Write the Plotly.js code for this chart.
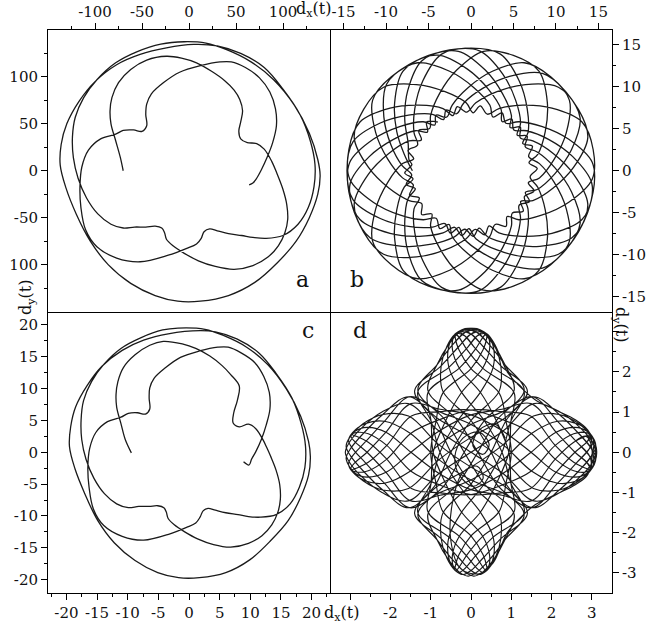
<!DOCTYPE html>
<html><head><meta charset="utf-8">
<script src="https://cdn.plot.ly/plotly-3.0.1.min.js"></script>
<style>html,body{margin:0;padding:0;background:#fff}</style>
</head><body><div id="chart" style="width:648px;height:629px"></div>
<script>
// Panel a
const aX=[-70,-73,-78,-83,-84,-82,-75,-62,-45,-24,-8,8,24,38,48,54,57,55,53,55,62,72,80,88,94,100,104,105,102,95,84,68,48,28,10,-5,-17,-24,-26,-29,-36,-46,-58,-70,-83,-97,-109,-118,-123,-124,-121,-112,-98,-78,-55,-30,-5,18,40,66,90,112,128,137,139.5,137,128,114,94,70,42,12,-12,-36,-62,-86,-105,-120,-131,-137,-136,-130,-117,-100,-77,-52,-24,5,30,55,80,100,118,129,134,133,127,116,100,82,68,56,42,30,22,16,13,8,-3,-22,-52,-77,-98,-110,-115,-116,-114,-107,-94,-78,-70,-59,-50,-45,-46,-45,-40,-27,-10,12,33,45,60,75,86,92,93,89,83,77,72,68,64];
const aY=[0,14,32,50,64,78,94,108,118,122,120,115,106,96,86,76,64,52,42,34,30,29,23,10,-4,-20,-36,-52,-66,-80,-92,-101,-105,-102,-96,-88,-80,-73,-66,-61,-59,-60,-60,-61,-57,-46,-29,-8,14,36,57,78,97,115,127,135,137.5,136,129,116,97,70,40,12,-5,-25,-50,-75,-98,-119,-133,-139,-139,-133,-120,-100,-75,-46,-18,6,28,50,74,95,113,124,131,134.6,133,125,110,87,60,32,7,-17,-39,-57,-69,-72,-71,-69,-67,-64,-62,-65,-72,-78,-83,-90,-97,-93,-81,-63,-39,-17,4,22,34,39,43,43.5,42,48,60,71,82,94,105,112,116,116,110,99,84,66,48,30,14,1,-8,-13,-15];
// Panel c
const cX=[-9.4,-10.4,-11.1,-11.8,-11.9,-11.6,-10.7,-8.8,-6.4,-4.2,-1.1,1.1,3.4,5.4,6.8,8.2,7.9,7.3,7.2,8.2,9.7,10.9,12.1,12.7,13.3,14.2,14.8,14.9,14.5,13.5,11.9,9.7,6.8,4.0,1.4,-0.7,-2.4,-3.4,-3.7,-4.1,-5.1,-6.5,-8.2,-9.9,-11.8,-13.8,-15.5,-16.8,-17.5,-17.6,-17.2,-15.9,-13.9,-11.1,-7.8,-4.3,-1.8,2.6,5.7,9.4,12.8,15.9,18.2,19.5,19.8,19.5,18.2,16.2,13.3,9.9,6.0,1.7,-1.7,-5.1,-8.8,-12.2,-14.9,-17.0,-18.6,-19.5,-19.3,-18.5,-16.6,-14.2,-10.9,-7.4,-3.4,1.8,4.3,7.8,11.4,14.2,16.8,18.3,19.0,18.9,18.0,16.5,14.2,11.6,9.7,8.0,6.0,4.3,3.1,2.3,1.8,1.1,-0.4,-3.1,-7.4,-10.9,-13.9,-15.6,-16.3,-16.5,-16.2,-15.2,-13.3,-11.1,-9.9,-8.4,-7.1,-6.4,-6.5,-6.4,-5.7,-3.8,-1.4,1.7,4.7,6.4,8.5,10.7,12.2,13.1,13.2,12.6,11.8,10.9,10.2,9.8,8.9];
const cY=[-0.1,2.0,4.5,7.1,9.1,11.1,13.3,15.3,16.8,17.4,17.0,16.3,15.1,13.6,12.2,10.4,8.2,6.2,4.6,4.0,4.4,3.7,1.9,0.7,-0.6,-2.8,-5.1,-7.4,-9.4,-11.4,-13.1,-14.3,-14.9,-14.5,-13.6,-12.5,-11.4,-10.4,-9.4,-8.7,-8.4,-8.5,-8.5,-8.7,-8.1,-6.5,-4.1,-1.1,2.0,5.1,8.1,11.1,13.8,16.3,18.0,19.2,19.5,19.3,18.3,16.5,13.8,9.9,5.7,1.7,-0.7,-3.6,-7.1,-10.7,-13.9,-16.9,-18.9,-19.7,-19.7,-18.9,-17.0,-14.2,-10.7,-6.5,-2.6,0.9,4.0,7.1,10.5,13.5,16.0,17.6,18.6,19.1,18.9,17.8,15.6,12.4,8.5,4.5,1.0,-2.4,-5.5,-8.1,-9.8,-10.2,-10.1,-9.8,-9.5,-9.1,-8.8,-9.2,-10.2,-11.1,-11.8,-12.8,-13.8,-13.2,-11.5,-8.9,-5.5,-2.4,0.6,3.1,4.8,5.5,6.1,6.2,6.0,6.8,8.5,10.1,11.6,13.3,14.9,15.9,16.5,16.5,15.6,14.1,11.9,9.4,6.8,4.3,2.0,0.1,-1.1,-2.0,-1.5];
// Panel b
const bX=[
-6.9,
-7.86,-8.74,-8.99,-8.00,-4.99,-1.49,1.68,3.71,4.76, 4.62,5.80,5.80,
7.28,9.68,12.09,13.75,12.64,10.29,6.41,3.06,0.57, -0.24,-1.09,-1.93,
-3.29,-6.10,-9.53,-13.07,-14.38,-14.27,-11.51,-8.40,-5.63, -4.25,-4.13,-2.85,
-2.23,-0.35,2.52,6.27,9.38,11.58,11.22,9.80,8.06, 6.75,7.42,6.29,
6.71,6.62,5.68,3.46,0,-3.46,-5.68,-6.62,-6.71, -6.09,-7.23,-6.79,
-8.06,-9.80,-11.22,-11.58,-9.38,-6.27,-2.52,0.35,2.23, 2.58,3.66,4.11,
5.63,8.40,11.51,14.27,14.38,13.07,9.53,6.10,3.29, 2.13,1.62,0.49,
-0.57,-3.06,-6.41,-10.29,-12.64,-13.75,-12.09,-9.68,-7.28, -5.85,-6.15,-4.86,
-4.76,-3.71,-1.68,1.49,4.99,8.00,8.99,8.74,7.86, 6.83,7.80,6.96,
7.86,8.74,8.99,8.00,4.99,1.49,-1.68,-3.71,-4.76, -4.62,-5.80,-5.80,
-7.28,-9.68,-12.09,-13.75,-12.64,-10.29,-6.41,-3.06,-0.57, 0.24,1.09,1.93,
3.29,6.10,9.53,13.07,14.38,14.27,11.51,8.40,5.63, 4.25,4.13,2.85,
2.23,0.35,-2.52,-6.27,-9.38,-11.58,-11.22,-9.80,-8.06, -6.75,-7.42,-6.29,
-6.71,-6.62,-5.68,-3.46,0,3.46,5.68,6.62,6.71, 6.09,7.23,6.79,
8.06,9.80,11.22,11.58,9.38,6.27,2.52,-0.35,-2.23, -2.58,-3.66,-4.11,
-5.63,-8.40,-11.51,-14.27,-14.38,-13.07,-9.53,-6.10,-3.29, -2.13,-1.62,-0.49,
0.57,3.06,6.41,10.29,12.64,13.75,12.09,9.68,7.28, 5.85,6.15,4.86,
4.76,3.71,1.68,-1.49,-4.99,-8.00,-8.99,-8.74,-7.86, -6.83,-7.80,-6.96,
-7.29,
-7.40,-7.80,-7.45,-5.81,-2.53,1.00,3.74,5.25,5.83, 5.44,6.61,6.39,
7.79,9.89,11.84,12.85,11.18,8.41,4.53,1.38,-0.85, -1.43,-2.41,-3.07,
-4.53,-7.36,-10.68,-13.88,-14.6,-13.88,-10.68,-7.36,-4.53, -3.24,-2.92,-1.69,
-0.85,1.38,4.53,8.41,11.18,12.85,11.84,9.89,7.79, 6.40,6.89,5.66,
5.83,5.25,3.74,1.00,-2.53,-5.81,-7.45,-7.80,-7.40, -6.56,-7.63,-6.98,
-8.08,-9.42,-10.26,-9.94,-7.3,-3.94,-0.42,2.06,3.55, 3.66,4.80,5.04,
6.55,9.18,11.98,14.22,13.72,11.85,8.10,4.65,1.96, 0.96,0.27,-0.73,
-1.96,-4.65,-8.10,-11.85,-13.72,-14.22,-11.98,-9.18,-6.55, -5.13,-5.22,-3.91];
const bY=[
0,
1.96,4.65,8.10,11.85,13.72,14.22,11.98,9.18,6.55, 5.13,5.22,3.91,
3.55,2.06,-0.42,-3.94,-7.3,-9.94,-10.26,-9.42,-8.08, -6.90,-7.72,-6.73,
-7.40,-7.80,-7.45,-5.81,-2.53,1.00,3.74,5.25,5.83, 5.44,6.61,6.39,
7.79,9.89,11.84,12.85,11.18,8.41,4.53,1.38,-0.85, -1.43,-2.41,-3.07,
-4.53,-7.36,-10.68,-13.88,-14.6,-13.88,-10.68,-7.36,-4.53, -3.24,-2.92,-1.69,
-0.85,1.38,4.53,8.41,11.18,12.85,11.84,9.89,7.79, 6.40,6.89,5.66,
5.83,5.25,3.74,1.00,-2.53,-5.81,-7.45,-7.80,-7.40, -6.56,-7.63,-6.98,
-8.08,-9.42,-10.26,-9.94,-7.3,-3.94,-0.42,2.06,3.55, 3.66,4.80,5.04,
6.55,9.18,11.98,14.22,13.72,11.85,8.10,4.65,1.96, 0.96,0.27,-0.73,
-1.96,-4.65,-8.10,-11.85,-13.72,-14.22,-11.98,-9.18,-6.55, -5.13,-5.22,-3.91,
-3.55,-2.06,0.42,3.94,7.3,9.94,10.26,9.42,8.08, 6.90,7.72,6.73,
7.40,7.80,7.45,5.81,2.53,-1.00,-3.74,-5.25,-5.83, -5.44,-6.61,-6.39,
-7.79,-9.89,-11.84,-12.85,-11.18,-8.41,-4.53,-1.38,0.85, 1.43,2.41,3.07,
4.53,7.36,10.68,13.88,14.6,13.88,10.68,7.36,4.53, 3.24,2.92,1.69,
0.85,-1.38,-4.53,-8.41,-11.18,-12.85,-11.84,-9.89,-7.79, -6.40,-6.89,-5.66,
-5.83,-5.25,-3.74,-1.00,2.53,5.81,7.45,7.80,7.40, 6.56,7.63,6.98,
8.08,9.42,10.26,9.94,7.3,3.94,0.42,-2.06,-3.55, -3.66,-4.80,-5.04,
-6.55,-9.18,-11.98,-14.22,-13.72,-11.85,-8.10,-4.65,-1.96, -0.96,-0.27,0.73,
1.28,
3.29,6.10,9.53,13.07,14.38,14.27,11.51,8.40,5.63, 4.25,4.13,2.85,
2.23,0.35,-2.52,-6.27,-9.38,-11.58,-11.22,-9.80,-8.06, -6.75,-7.42,-6.29,
-6.71,-6.62,-5.68,-3.46,0,3.46,5.68,6.62,6.71, 6.09,7.23,6.79,
8.06,9.80,11.22,11.58,9.38,6.27,2.52,-0.35,-2.23, -2.58,-3.66,-4.11,
-5.63,-8.40,-11.51,-14.27,-14.38,-13.07,-9.53,-6.10,-3.29, -2.13,-1.62,-0.49,
0.57,3.06,6.41,10.29,12.64,13.75,12.09,9.68,7.28, 5.85,6.15,4.86,
4.76,3.71,1.68,-1.49,-4.99,-8.00,-8.99,-8.74,-7.86, -6.83,-7.80,-6.96,
-7.86,-8.74,-8.99,-8.00,-4.99,-1.49,1.68,3.71,4.76, 4.62,5.80,5.80];
// Panel d: vertical-lobe swings, edge, horizontal-lobe swings, edge and centre
const dX=[
.40,.39,.30,0,-.70,-.87,-1.0,-.87,-.70,0,.30,.39,.40,.39,.30,0,-.70,-.87,-1.0,-.87,-.70,0,.30,.39,
.38,.29,.10,-.29,-1.07,-.99,-.94,-.64,-.24,.29,.46,.44,.38,.29,.10,-.29,-1.07,-.99,-.94,-.64,-.24,.29,.46,.44,
.31,.15,-.10,-.55,-1.32,-.99,-.77,-.34,.24,.55,.56,.44,.31,.15,-.10,-.55,-1.32,-.99,-.77,-.34,.24,.55,.56,.44,
.20,0,-.30,-.74,-1.4,-.87,-.5,0,.70,.74,.6,.39,.20,0,-.30,-.74,-1.4,-.87,-.5,0,.70,.74,.6,.39,
.07,-.15,-.46,-.84,-1.32,-.64,-.17,.34,1.07,.84,.56,.29,.07,-.15,-.46,-.84,-1.32,-.64,-.17,.34,1.07,.84,.56,.29,
-.07,-.29,-.56,-.84,-1.07,-.34,.17,.64,1.32,.84,.46,.15,-.07,-.29,-.56,-.84,-1.07,-.34,.17,.64,1.32,.84,.46,.15,
-.20,-.39,-.60,-.74,-.70,0,.50,.87,1.4,.74,.30,0,-.20,-.39,-.60,-.74,-.70,0,.50,.87,1.4,.74,.30,0,
-.31,-.44,-.56,-.55,-.24,.34,.77,.99,1.32,.55,.10,-.15,-.31,-.44,-.56,-.55,-.24,.34,.77,.99,1.32,.55,.10,-.15,
-.38,-.44,-.46,-.29,.24,.64,.94,.99,1.07,.29,-.10,-.29,-.38,-.44,-.46,-.29,.24,.64,.94,.99,1.07,.29,-.10,-.29,
-.40,-.39,-.30,0,.70,.87,1.0,.87,.70,0,-.30,-.39,-.40,-.39,-.30,0,.70,.87,1.0,.87,.70,0,-.30,-.39,
-.38,-.29,-.10,.29,1.07,.99,.94,.64,.24,-.29,-.46,-.44,-.38,-.29,-.10,.29,1.07,.99,.94,.64,.24,-.29,-.46,-.44,
-.31,-.15,.10,.55,1.32,.99,.77,.34,-.24,-.55,-.56,-.44,-.31,-.15,.10,.55,1.32,.99,.77,.34,-.24,-.55,-.56,-.44,
-.20,0,.30,.74,1.4,.87,.5,0,-.70,-.74,-.6,-.39,-.20,0,.30,.74,1.4,.87,.5,0,-.70,-.74,-.6,-.39,
-.07,.15,.46,.84,1.32,.64,.17,-.34,-1.07,-.84,-.56,-.29,-.07,.15,.46,.84,1.32,.64,.17,-.34,-1.07,-.84,-.56,-.29,
.07,.29,.56,.84,1.07,.34,-.17,-.64,-1.32,-.84,-.46,-.15,.07,.29,.56,.84,1.07,.34,-.17,-.64,-1.32,-.84,-.46,-.15,
.20,.39,.60,.74,.70,0,-.50,-.87,-1.4,-.74,-.30,0,.20,.39,.60,.74,.70,0,-.50,-.87,-1.4,-.74,-.30,0,
.31,.44,.56,.55,.24,-.34,-.77,-.99,-1.32,-.55,-.10,.15,.31,.44,.56,.55,.24,-.34,-.77,-.99,-1.32,-.55,-.10,.15,
.38,.44,.46,.29,-.24,-.64,-.94,-.99,-1.07,-.29,.10,.29,.38,.44,.46,.29,-.24,-.64,-.94,-.99,-1.07,-.29,.10,.29,
0.38,0.55,0.72,0.9,1.25,1.6,2.1,2.6,2.9,
2.95,2.85,2.55,2.09,1.48,0.76,0,-0.76,-1.48,-2.09,-2.55,-2.85,-2.95,-2.85,-2.55,-2.09,-1.48,-0.76,0,0.76,1.48,2.09,2.55,2.85,
2.98,2.88,2.58,2.11,1.49,0.77,0,-0.77,-1.49,-2.11,-2.58,-2.88,-2.98,-2.88,-2.58,-2.11,-1.49,-0.77,0,0.77,1.49,2.11,2.58,2.88,
3.04,2.94,2.63,2.15,1.52,0.79,0,-0.79,-1.52,-2.15,-2.63,-2.94,-3.04,-2.94,-2.63,-2.15,-1.52,-0.79,0,0.79,1.52,2.15,2.63,2.94,
3.10,2.99,2.68,2.19,1.55,0.80,0,-0.80,-1.55,-2.19,-2.68,-2.99,-3.10,-2.99,-2.68,-2.19,-1.55,-0.80,0,0.80,1.55,2.19,2.68,2.99,
3.12,3.01,2.70,2.21,1.56,0.81,0,-0.81,-1.56,-2.21,-2.70,-3.01,-3.12,-3.01,-2.70,-2.21,-1.56,-0.81,0,0.81,1.56,2.21,2.70,3.01,
3.10,2.99,2.68,2.19,1.55,0.80,0,-0.80,-1.55,-2.19,-2.68,-2.99,-3.10,-2.99,-2.68,-2.19,-1.55,-0.80,0,0.80,1.55,2.19,2.68,2.99,
3.04,2.94,2.63,2.15,1.52,0.79,0,-0.79,-1.52,-2.15,-2.63,-2.94,-3.04,-2.94,-2.63,-2.15,-1.52,-0.79,0,0.79,1.52,2.15,2.63,2.94,
2.98,2.88,2.58,2.11,1.49,0.77,0,-0.77,-1.49,-2.11,-2.58,-2.88,-2.98,-2.88,-2.58,-2.11,-1.49,-0.77,0,0.77,1.49,2.11,2.58,2.88,
2.95,2.85,2.55,2.09,1.48,0.76,0,-0.76,-1.48,-2.09,-2.55,-2.85,-2.95,-2.85,-2.55,-2.09,-1.48,-0.76,0,0.76,1.48,2.09,2.55,2.85,
2.95,2.85,2.55,2.09,1.48,0.76,0,-0.76,-1.48,-2.09,-2.55,-2.85,-2.95,-2.85,-2.55,-2.09,-1.48,-0.76,0,0.76,1.48,2.09,2.55,2.85,
2.98,2.88,2.58,2.11,1.49,0.77,0,-0.77,-1.49,-2.11,-2.58,-2.88,-2.98,-2.88,-2.58,-2.11,-1.49,-0.77,0,0.77,1.49,2.11,2.58,2.88,
3.04,2.94,2.63,2.15,1.52,0.79,0,-0.79,-1.52,-2.15,-2.63,-2.94,-3.04,-2.94,-2.63,-2.15,-1.52,-0.79,0,0.79,1.52,2.15,2.63,2.94,
3.10,2.99,2.68,2.19,1.55,0.80,0,-0.80,-1.55,-2.19,-2.68,-2.99,-3.10,-2.99,-2.68,-2.19,-1.55,-0.80,0,0.80,1.55,2.19,2.68,2.99,
3.12,3.01,2.70,2.21,1.56,0.81,0,-0.81,-1.56,-2.21,-2.70,-3.01,-3.12,-3.01,-2.70,-2.21,-1.56,-0.81,0,0.81,1.56,2.21,2.70,3.01,
3.10,2.99,2.68,2.19,1.55,0.80,0,-0.80,-1.55,-2.19,-2.68,-2.99,-3.10,-2.99,-2.68,-2.19,-1.55,-0.80,0,0.80,1.55,2.19,2.68,2.99,
3.04,2.94,2.63,2.15,1.52,0.79,0,-0.79,-1.52,-2.15,-2.63,-2.94,-3.04,-2.94,-2.63,-2.15,-1.52,-0.79,0,0.79,1.52,2.15,2.63,2.94,
2.98,2.88,2.58,2.11,1.49,0.77,0,-0.77,-1.49,-2.11,-2.58,-2.88,-2.98,-2.88,-2.58,-2.11,-1.49,-0.77,0,0.77,1.49,2.11,2.58,2.88,
2.95,2.85,2.55,2.09,1.48,0.76,0,-0.76,-1.48,-2.09,-2.55,-2.85,-2.95,-2.85,-2.55,-2.09,-1.48,-0.76,0,0.76,1.48,2.09,2.55,2.85,
3.0,2.9,2.6,2.1,1.6,1.25,0.9,0.72,0.55,0.2,-0.25,-0.5,-0.45,-0.2,0.15,0.3,0.05,-0.3,-0.4,-0.2,0.2,0.45,0.3,0.05,0.2,0.6,0.85];
const dY=[
2.94,2.84,2.55,2.08,1.47,0.76,0,-0.76,-1.47,-2.08,-2.55,-2.84,-2.94,-2.84,-2.55,-2.08,-1.47,-0.76,0,0.76,1.47,2.08,2.55,2.84,
2.95,2.85,2.55,2.09,1.48,0.76,0,-0.76,-1.48,-2.09,-2.55,-2.85,-2.95,-2.85,-2.55,-2.09,-1.48,-0.76,0,0.76,1.48,2.09,2.55,2.85,
2.99,2.89,2.59,2.11,1.50,0.77,0,-0.77,-1.50,-2.11,-2.59,-2.89,-2.99,-2.89,-2.59,-2.11,-1.50,-0.77,0,0.77,1.50,2.11,2.59,2.89,
3.04,2.94,2.63,2.15,1.52,0.79,0,-0.79,-1.52,-2.15,-2.63,-2.94,-3.04,-2.94,-2.63,-2.15,-1.52,-0.79,0,0.79,1.52,2.15,2.63,2.94,
3.08,2.98,2.67,2.18,1.54,0.80,0,-0.80,-1.54,-2.18,-2.67,-2.98,-3.08,-2.98,-2.67,-2.18,-1.54,-0.80,0,0.80,1.54,2.18,2.67,2.98,
3.08,2.98,2.67,2.18,1.54,0.80,0,-0.80,-1.54,-2.18,-2.67,-2.98,-3.08,-2.98,-2.67,-2.18,-1.54,-0.80,0,0.80,1.54,2.18,2.67,2.98,
3.04,2.94,2.63,2.15,1.52,0.79,0,-0.79,-1.52,-2.15,-2.63,-2.94,-3.04,-2.94,-2.63,-2.15,-1.52,-0.79,0,0.79,1.52,2.15,2.63,2.94,
2.99,2.89,2.59,2.11,1.50,0.77,0,-0.77,-1.50,-2.11,-2.59,-2.89,-2.99,-2.89,-2.59,-2.11,-1.50,-0.77,0,0.77,1.50,2.11,2.59,2.89,
2.95,2.85,2.55,2.09,1.48,0.76,0,-0.76,-1.48,-2.09,-2.55,-2.85,-2.95,-2.85,-2.55,-2.09,-1.48,-0.76,0,0.76,1.48,2.09,2.55,2.85,
2.94,2.84,2.55,2.08,1.47,0.76,0,-0.76,-1.47,-2.08,-2.55,-2.84,-2.94,-2.84,-2.55,-2.08,-1.47,-0.76,0,0.76,1.47,2.08,2.55,2.84,
2.95,2.85,2.55,2.09,1.48,0.76,0,-0.76,-1.48,-2.09,-2.55,-2.85,-2.95,-2.85,-2.55,-2.09,-1.48,-0.76,0,0.76,1.48,2.09,2.55,2.85,
2.99,2.89,2.59,2.11,1.50,0.77,0,-0.77,-1.50,-2.11,-2.59,-2.89,-2.99,-2.89,-2.59,-2.11,-1.50,-0.77,0,0.77,1.50,2.11,2.59,2.89,
3.04,2.94,2.63,2.15,1.52,0.79,0,-0.79,-1.52,-2.15,-2.63,-2.94,-3.04,-2.94,-2.63,-2.15,-1.52,-0.79,0,0.79,1.52,2.15,2.63,2.94,
3.08,2.98,2.67,2.18,1.54,0.80,0,-0.80,-1.54,-2.18,-2.67,-2.98,-3.08,-2.98,-2.67,-2.18,-1.54,-0.80,0,0.80,1.54,2.18,2.67,2.98,
3.08,2.98,2.67,2.18,1.54,0.80,0,-0.80,-1.54,-2.18,-2.67,-2.98,-3.08,-2.98,-2.67,-2.18,-1.54,-0.80,0,0.80,1.54,2.18,2.67,2.98,
3.04,2.94,2.63,2.15,1.52,0.79,0,-0.79,-1.52,-2.15,-2.63,-2.94,-3.04,-2.94,-2.63,-2.15,-1.52,-0.79,0,0.79,1.52,2.15,2.63,2.94,
2.99,2.89,2.59,2.11,1.50,0.77,0,-0.77,-1.50,-2.11,-2.59,-2.89,-2.99,-2.89,-2.59,-2.11,-1.50,-0.77,0,0.77,1.50,2.11,2.59,2.89,
2.95,2.85,2.55,2.09,1.48,0.76,0,-0.76,-1.48,-2.09,-2.55,-2.85,-2.95,-2.85,-2.55,-2.09,-1.48,-0.76,0,0.76,1.48,2.09,2.55,2.85,
2.95,2.75,2.4,2.0,1.6,1.3,1.05,0.8,0.55,
.44,.40,.25,-.17,-.90,-1.01,-1.05,-.82,-.48,.17,.46,.49,.44,.40,.25,-.17,-.90,-1.01,-1.05,-.82,-.48,.17,.46,.49,
.39,.26,0,-.50,-1.21,-1.07,-.93,-.54,0,.50,.62,.52,.39,.26,0,-.50,-1.21,-1.07,-.93,-.54,0,.50,.62,.52,
.29,.09,-.25,-.77,-1.38,-1.01,-.69,-.19,.48,.77,.71,.49,.29,.09,-.25,-.77,-1.38,-1.01,-.69,-.19,.48,.77,.71,.49,
.15,-.09,-.46,-.94,-1.38,-.82,-.37,.19,.90,.94,.71,.40,.15,-.09,-.46,-.94,-1.38,-.82,-.37,.19,.90,.94,.71,.40,
0,-.26,-.62,-1.0,-1.21,-.54,0,.54,1.21,1.0,.62,.26,0,-.26,-.62,-1.0,-1.21,-.54,0,.54,1.21,1.0,.62,.26,
-.15,-.40,-.71,-.94,-.90,-.19,.37,.82,1.38,.94,.46,.09,-.15,-.40,-.71,-.94,-.90,-.19,.37,.82,1.38,.94,.46,.09,
-.29,-.49,-.71,-.77,-.48,.19,.69,1.01,1.38,.77,.25,-.09,-.29,-.49,-.71,-.77,-.48,.19,.69,1.01,1.38,.77,.25,-.09,
-.39,-.52,-.62,-.50,0,.54,.93,1.07,1.21,.50,0,-.26,-.39,-.52,-.62,-.50,0,.54,.93,1.07,1.21,.50,0,-.26,
-.44,-.49,-.46,-.17,.48,.82,1.05,1.01,.90,.17,-.25,-.40,-.44,-.49,-.46,-.17,.48,.82,1.05,1.01,.90,.17,-.25,-.40,
-.44,-.40,-.25,.17,.90,1.01,1.05,.82,.48,-.17,-.46,-.49,-.44,-.40,-.25,.17,.90,1.01,1.05,.82,.48,-.17,-.46,-.49,
-.39,-.26,0,.50,1.21,1.07,.93,.54,0,-.50,-.62,-.52,-.39,-.26,0,.50,1.21,1.07,.93,.54,0,-.50,-.62,-.52,
-.29,-.09,.25,.77,1.38,1.01,.69,.19,-.48,-.77,-.71,-.49,-.29,-.09,.25,.77,1.38,1.01,.69,.19,-.48,-.77,-.71,-.49,
-.15,.09,.46,.94,1.38,.82,.37,-.19,-.90,-.94,-.71,-.40,-.15,.09,.46,.94,1.38,.82,.37,-.19,-.90,-.94,-.71,-.40,
0,.26,.62,1.0,1.21,.54,0,-.54,-1.21,-1.0,-.62,-.26,0,.26,.62,1.0,1.21,.54,0,-.54,-1.21,-1.0,-.62,-.26,
.15,.40,.71,.94,.90,.19,-.37,-.82,-1.38,-.94,-.46,-.09,.15,.40,.71,.94,.90,.19,-.37,-.82,-1.38,-.94,-.46,-.09,
.29,.49,.71,.77,.48,-.19,-.69,-1.01,-1.38,-.77,-.25,.09,.29,.49,.71,.77,.48,-.19,-.69,-1.01,-1.38,-.77,-.25,.09,
.39,.52,.62,.50,0,-.54,-.93,-1.07,-1.21,-.50,0,.26,.39,.52,.62,.50,0,-.54,-.93,-1.07,-1.21,-.50,0,.26,
.44,.49,.46,.17,-.48,-.82,-1.05,-1.01,-.90,-.17,.25,.40,.44,.49,.46,.17,-.48,-.82,-1.05,-1.01,-.90,-.17,.25,.40,
0.1,-0.55,-0.8,-1.05,-1.3,-1.6,-2.0,-2.4,-2.75,-3.02,-2.9,-2.2,-1.2,-0.5,-0.35,-0.65,-0.85,-0.55,-0.1,0.35,0.5,0.2,-0.05,0.15,0.55,0.7,0.35];

// Tick values and labels
const aTicks=[-100,-50,0,50,100], aXText=['-100','-50','0','50','100'], aYText=['100','-50','0','50','100'];
const aMinor=[-125,-75,-25,25,75,125];
const bTicks=[-15,-10,-5,0,5,10,15], bText=['-15','-10','-5','0','5','10','15'];
const bMinor=[-12.5,-7.5,-2.5,2.5,7.5,12.5];
const cTicks=[-20,-15,-10,-5,0,5,10,15,20], cText=['-20','-15','-10','-5','0','5','10','15','20'];
const cMinor=[-22.5,-17.5,-12.5,-7.5,-2.5,2.5,7.5,12.5,17.5,22.5];
const dTicks=[-3,-2,-1,0,1,2,3], dXText=['','-2','-1','0','1','2','3'], dYText=['-3','-2','-1','0','1','2',''];
const dMinor=[-2.5,-1.5,-0.5,0.5,1.5,2.5];

const FONT='DejaVu Serif, Liberation Serif, serif';
const ln=w=>({color:'#1a1a1a',width:w,shape:'spline',smoothing:1});
const traces=[
 {x:aX,y:aY,xaxis:'x',yaxis:'y',mode:'lines',line:ln(1.3),hoverinfo:'skip'},
 {x:bX,y:bY,xaxis:'x2',yaxis:'y2',mode:'lines',line:ln(1.3),hoverinfo:'skip'},
 {x:cX,y:cY,xaxis:'x3',yaxis:'y3',mode:'lines',line:ln(1.3),hoverinfo:'skip'},
 {x:dX,y:dY,xaxis:'x4',yaxis:'y4',mode:'lines',line:ln(1.15),hoverinfo:'skip'}
];
function ax(o,minorVals){
 return Object.assign({showgrid:false,zeroline:false,showline:true,linecolor:'#000',linewidth:1,
  ticks:'outside',ticklen:6,tickwidth:1,tickcolor:'#000',tickmode:'array',
  tickfont:{family:FONT,size:15,color:'#111'},fixedrange:true,
  minor:{ticks:'outside',ticklen:3,tickwidth:1,tickcolor:'#000',tickmode:'array',tickvals:minorVals}},o);
}
const ann=(text,x,y,size,angle)=>({text:text,x:x,y:y,xref:'paper',yref:'paper',xanchor:'center',yanchor:'middle',
 showarrow:false,textangle:angle||0,font:{family:FONT,size:size,color:'#111'}});
const layout={
 width:648,height:629,margin:{l:48,r:36,t:30,b:36},paper_bgcolor:'#fff',plot_bgcolor:'#fff',showlegend:false,
 font:{family:FONT,color:'#111'},
 xaxis:ax({domain:[0,0.5],anchor:'y',side:'top',mirror:true,range:[-150,150],tickvals:aTicks,ticktext:aXText},aMinor),
 yaxis:ax({domain:[0.5,1],anchor:'x',side:'left',mirror:true,range:[-150,150],tickvals:aTicks,ticktext:aYText},aMinor),
 xaxis2:ax({domain:[0.5,1],anchor:'y2',side:'top',mirror:true,range:[-16.6,16.6],tickvals:bTicks,ticktext:bText},bMinor),
 yaxis2:ax({domain:[0.5,1],anchor:'x2',side:'right',mirror:false,range:[-16.75,16.75],tickvals:bTicks,ticktext:bText},bMinor),
 xaxis3:ax({domain:[0,0.5],anchor:'y3',side:'bottom',mirror:false,range:[-23,23],tickvals:cTicks,ticktext:cText},cMinor),
 yaxis3:ax({domain:[0,0.5],anchor:'x3',side:'left',mirror:true,range:[-22.1,22.1],tickvals:cTicks,ticktext:cText},cMinor),
 xaxis4:ax({domain:[0.5,1],anchor:'y4',side:'bottom',mirror:false,range:[-3.5,3.5],tickvals:dTicks,ticktext:dXText},dMinor),
 yaxis4:ax({domain:[0,0.5],anchor:'x4',side:'right',mirror:false,range:[-3.5,3.5],tickvals:dTicks,ticktext:dYText},dMinor),
 annotations:[
  ann('a',0.452,0.557,22), ann('b',0.548,0.557,22), ann('c',0.461,0.466,22), ann('d',0.553,0.466,22),
  ann('d<sub>x</sub>(t)',0.4716,1.036,16), ann('d<sub>x</sub>(t)',0.521,-0.036,16),
  ann('d<sub>y</sub>(t)',-0.037,0.526,16,-90), ann('d<sub>y</sub>(t)',1.016,0.476,16,90)
 ]
};
Plotly.newPlot('chart',traces,layout,{staticPlot:true,displayModeBar:false});
</script></body></html>
